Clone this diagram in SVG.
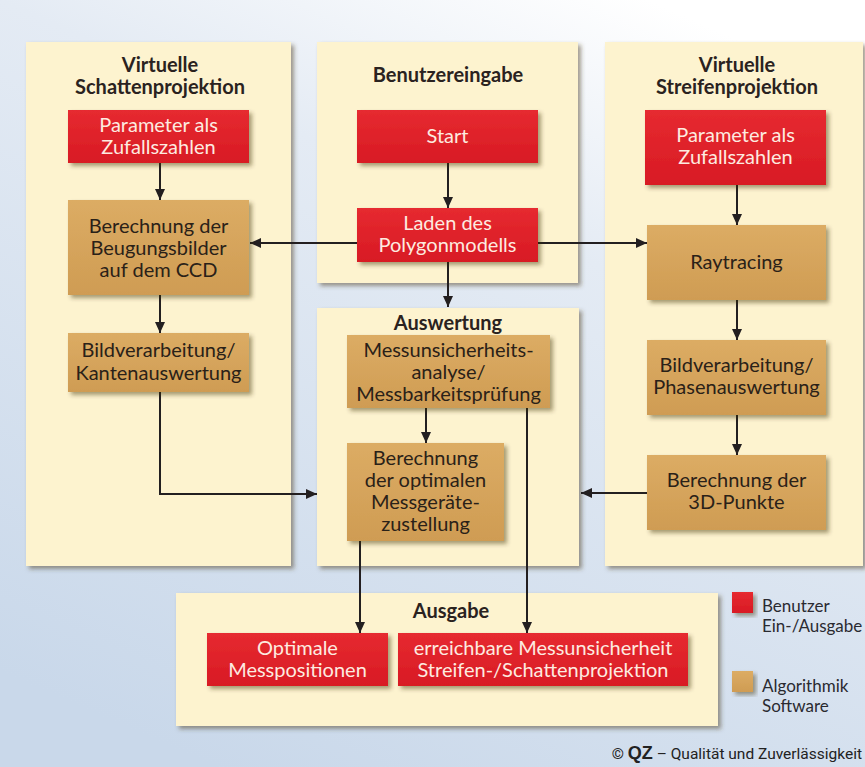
<svg xmlns="http://www.w3.org/2000/svg" width="865" height="767" viewBox="0 0 865 767">
<defs>
<linearGradient id="bg" x1="0.75" y1="0" x2="0.25" y2="1">
<stop offset="0" stop-color="#ffffff"/>
<stop offset="0.3" stop-color="#e4ebf4"/>
<stop offset="1" stop-color="#c9d8ea"/>
</linearGradient>
<linearGradient id="red" x1="0" y1="0" x2="0" y2="1">
<stop offset="0" stop-color="#e62a30"/>
<stop offset="1" stop-color="#d81a24"/>
</linearGradient>
<linearGradient id="tan" x1="0" y1="0" x2="0" y2="1">
<stop offset="0" stop-color="#dcac64"/>
<stop offset="1" stop-color="#cf9c53"/>
</linearGradient>
<filter id="sh" x="-10%" y="-10%" width="130%" height="130%">
<feDropShadow dx="3" dy="3" stdDeviation="2" flood-color="#3a2a10" flood-opacity="0.45"/>
</filter>
<filter id="shp" x="-5%" y="-5%" width="115%" height="115%">
<feDropShadow dx="3" dy="3" stdDeviation="2" flood-color="#4a3a20" flood-opacity="0.5"/>
</filter>
<marker id="ah" markerUnits="userSpaceOnUse" markerWidth="12" markerHeight="11" refX="11" refY="5" orient="auto">
<path d="M0,0 L11,5 L0,10 z" fill="#231f20"/>
</marker>
</defs>
<style>
.panel{fill:#fdf3cf;filter:url(#shp)}
.r{fill:url(#red);filter:url(#sh)}
.t{fill:url(#tan);filter:url(#sh)}
text{font-family:Lato,"Open Sans","DejaVu Sans",sans-serif;text-anchor:middle}
.h{font-weight:bold;font-size:20px;fill:#2a2220}
.rt{font-size:20px;fill:#fdebe0}
.tt{font-size:20px;fill:#2a2118}
.lg{font-size:17px;fill:#2a2a30;text-anchor:start}
.c{fill:none;stroke:#231f20;stroke-width:2;marker-end:url(#ah)}
</style>
<rect x="0" y="0" width="865" height="767" fill="url(#bg)"/>

<g id="panel-schatten"><rect class="panel" x="26" y="42" width="265" height="524"/>
<text class="h" x="160" y="72">Virtuelle</text><text class="h" x="160" y="94">Schattenprojektion</text></g>
<g id="panel-benutzereingabe"><rect class="panel" x="317" y="42" width="261" height="241"/>
<text class="h" x="448" y="82">Benutzereingabe</text></g>
<g id="panel-streifen"><rect class="panel" x="605" y="42" width="258" height="524"/>
<text class="h" x="737" y="72">Virtuelle</text><text class="h" x="737" y="94">Streifenprojektion</text></g>
<g id="panel-auswertung"><rect class="panel" x="317" y="308" width="262" height="258"/>
<text class="h" x="448" y="330">Auswertung</text></g>
<g id="panel-ausgabe"><rect class="panel" x="176" y="593" width="542" height="133"/>
<text class="h" x="451" y="618">Ausgabe</text></g>

<g id="connectors">
<path class="c" d="M160,163 V200"/>
<path class="c" d="M160,295 V333"/>
<path class="c" d="M160,392 V494 H317"/>
<path class="c" d="M448,163 V208"/>
<path class="c" d="M357,243 H250"/>
<path class="c" d="M538,243 H647"/>
<path class="c" d="M448,262 V307"/>
<path class="c" d="M737,185 V225"/>
<path class="c" d="M737,300 V340"/>
<path class="c" d="M737,415 V455"/>
<path class="c" d="M647,493 H581"/>
<path class="c" d="M426,408 V443"/>
<path class="c" d="M527,408 V633"/>
<path class="c" d="M360,541 V633"/>
</g>

<g id="s-param"><rect class="r" x="68" y="110" width="181" height="53"/>
<text class="rt" x="158.5" y="132">Parameter als</text><text class="rt" x="158.5" y="154">Zufallszahlen</text></g>
<g id="s-berechnung"><rect class="t" x="68" y="200" width="181" height="95"/>
<text class="tt" x="158.5" y="233">Berechnung der</text><text class="tt" x="158.5" y="255">Beugungsbilder</text><text class="tt" x="158.5" y="277">auf dem CCD</text></g>
<g id="s-bild"><rect class="t" x="68" y="333" width="181" height="59"/>
<text class="tt" x="158.5" y="357">Bildverarbeitung/</text><text class="tt" x="158.5" y="380">Kantenauswertung</text></g>

<g id="start"><rect class="r" x="357" y="110" width="181" height="53"/>
<text class="rt" x="447.5" y="143">Start</text></g>
<g id="laden"><rect class="r" x="357" y="208" width="181" height="54"/>
<text class="rt" x="447.5" y="230">Laden des</text><text class="rt" x="447.5" y="252">Polygonmodells</text></g>

<g id="f-param"><rect class="r" x="645" y="110" width="181" height="75"/>
<text class="rt" x="735.5" y="142">Parameter als</text><text class="rt" x="735.5" y="164">Zufallszahlen</text></g>
<g id="f-ray"><rect class="t" x="647" y="225" width="179" height="75"/>
<text class="tt" x="736.5" y="269">Raytracing</text></g>
<g id="f-bild"><rect class="t" x="647" y="340" width="179" height="75"/>
<text class="tt" x="736.5" y="372">Bildverarbeitung/</text><text class="tt" x="736.5" y="394">Phasenauswertung</text></g>
<g id="f-3d"><rect class="t" x="647" y="455" width="179" height="75"/>
<text class="tt" x="736.5" y="487">Berechnung der</text><text class="tt" x="736.5" y="509">3D-Punkte</text></g>

<g id="messunsicherheit"><rect class="t" x="347" y="335" width="203" height="73"/>
<text class="tt" x="448.5" y="357">Messunsicherheits-</text><text class="tt" x="448.5" y="379">analyse/</text><text class="tt" x="448.5" y="401">Messbarkeitsprüfung</text></g>
<g id="optimierung"><rect class="t" x="347" y="443" width="157" height="98"/>
<text class="tt" x="425.5" y="465">Berechnung</text><text class="tt" x="425.5" y="487">der optimalen</text><text class="tt" x="425.5" y="509">Messgeräte-</text><text class="tt" x="425.5" y="531">zustellung</text></g>

<g id="optimale"><rect class="r" x="207" y="633" width="181" height="53"/>
<text class="rt" x="297.5" y="655">Optimale</text><text class="rt" x="297.5" y="677">Messpositionen</text></g>
<g id="erreichbare"><rect class="r" x="398" y="633" width="290" height="53"/>
<text class="rt" x="543" y="655">erreichbare Messunsicherheit</text><text class="rt" x="543" y="677">Streifen-/Schattenprojektion</text></g>

<g id="legend">
<rect class="r" x="732" y="592" width="21" height="21"/>
<text class="lg" x="762" y="612">Benutzer</text><text class="lg" x="762" y="632">Ein-/Ausgabe</text>
<rect class="t" x="732" y="671" width="21" height="21"/>
<text class="lg" x="762" y="692">Algorithmik</text><text class="lg" x="762" y="712">Software</text>
</g>
<text x="862" y="759" style="text-anchor:end;font-family:Roboto,'Liberation Sans',sans-serif;font-size:15.5px;fill:#222">© <tspan font-weight="bold" font-size="18" font-family="'Liberation Sans',Arial,sans-serif">QZ</tspan> – Qualität und Zuverlässigkeit</text>
</svg>
